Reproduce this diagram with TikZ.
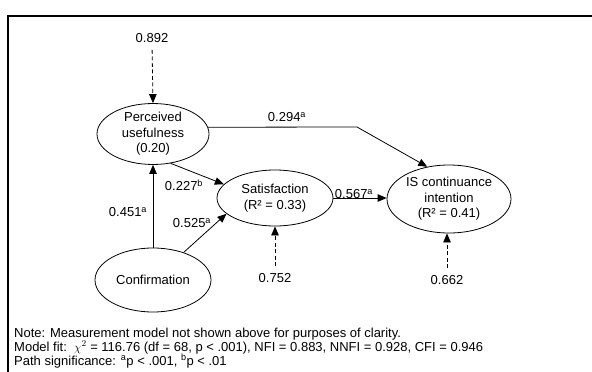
\documentclass[tikz,border=0pt]{standalone}
\usepackage{fontspec}
\setmainfont{Liberation Sans}
\usetikzlibrary{shapes.geometric,arrows.meta}
\begin{document}
\begin{tikzpicture}[x=1pt,y=-1pt,
  every node/.style={font=\fontsize{13pt}{15.5pt}\selectfont},
  latent/.style={draw,ellipse,line width=0.8pt,inner sep=0pt,align=center},
  lbl/.style={inner sep=1pt},
  path/.style={line width=0.8pt,-{Triangle[length=9pt,width=7.5pt]}},
  err/.style={path,dash pattern=on 4pt off 2.5pt},
  note/.style={anchor=base west,inner sep=0pt}]
\useasboundingbox (0,0) rectangle (592,372);
\draw[line width=1.6pt] (8,372) -- (8,16) -- (592,16);
% latent variables
\node[latent,minimum width=112pt,minimum height=58pt] (PU) at (153,134) {Perceived\\usefulness\\(0.20)};
\node[latent,minimum width=116pt,minimum height=56pt] (Sat) at (275,198) {Satisfaction\\(R² = 0.33)};
\node[latent,minimum width=124pt,minimum height=68pt] (IS) at (449,199) {IS continuance\\intention\\(R² = 0.41)};
\node[latent,minimum width=116pt,minimum height=64pt] (Conf) at (153,280) {Confirmation};
% error terms
\node[lbl] (e1) at (152,38) {0.892};
\node[lbl] (e2) at (275,278) {0.752};
\node[lbl] (e3) at (447,280) {0.662};
% path labels
\node[lbl] (l294) at (287,117) {0.294\textsuperscript{a}};
\node[lbl] (l227) at (184,185) {0.227\textsuperscript{b}};
\node[lbl] (l451) at (128,212) {0.451\textsuperscript{a}};
\node[lbl] (l525) at (192,223) {0.525\textsuperscript{a}};
\node[lbl] (l567) at (354,194) {0.567\textsuperscript{a}};
% connectors
\coordinate (k1) at (357,127);
\draw[err,shorten <=6pt] (e1.south) -- (PU.north);
\draw[err,shorten <=6pt] (e2.north) -- (Sat.south);
\draw[err,shorten <=6pt] (e3.north) -- (e3.north |- IS.south);
\draw[path] (PU.7) -- (k1) -- (IS.124);
\draw[path] (PU.-59) -- (Sat.165);
\draw[path] (Conf.42) -- (Sat.198);
\draw[path] (Conf.north) -- (PU.south);
\draw[path] (Sat.east) -- (Sat.east -| IS.west);
% notes
\node[note] (n1) at (14,337) {Note: Measurement model not shown above for purposes of clarity.};
\node[note] (n2) at (14,351) {Model fit:\ \ $\chi^2$ = 116.76 (df = 68, p < .001), NFI = 0.883, NNFI = 0.928, CFI = 0.946};
\node[note] (n3) at (14,365) {Path significance: \textsuperscript{a}p < .001, \textsuperscript{b}p < .01};
\end{tikzpicture}
\end{document}
